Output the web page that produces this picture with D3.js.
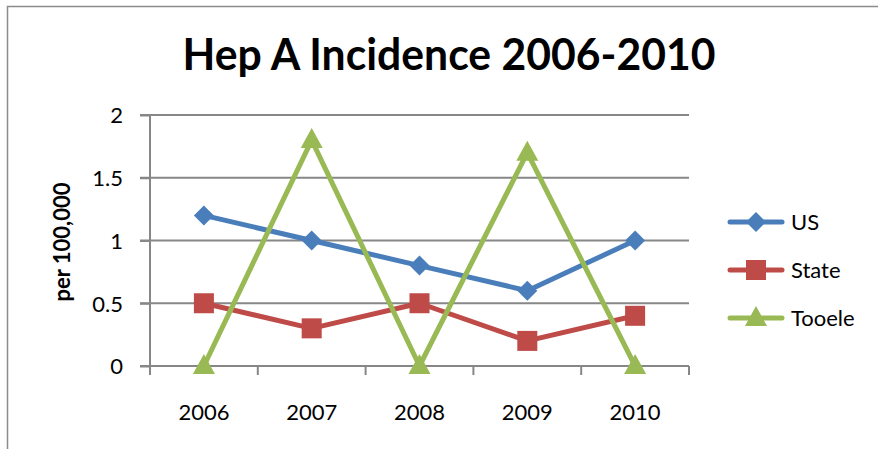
<!DOCTYPE html>
<html><head><meta charset="utf-8">
<script src="https://cdn.jsdelivr.net/npm/d3@7"></script>
<style>body{margin:0;background:#fff}svg{display:block}text{font-family:Lato,"Open Sans",sans-serif}</style>
</head><body>
<svg id="c" width="878" height="449"></svg>
<script>
const years = ["2006","2007","2008","2009","2010"];
const usValues = [1.2, 1.0, 0.8, 0.6, 1.0];
const stateValues = [0.5, 0.3, 0.5, 0.2, 0.4];
const tooeleValues = [0, 1.8, 0, 1.7, 0];
const yTicks = [0, 0.5, 1, 1.5, 2];
const seriesNames = ["US", "State", "Tooele"];
const seriesColors = ["#4A7EBB", "#BE4B48", "#98B954"];
const seriesShapes = ["diamond", "square", "triangle"];
const titleText = "Hep A Incidence 2006-2010";
const yTitle = "per 100,000";

const series = seriesNames.map((n,i)=>({name:n, values:[usValues,stateValues,tooeleValues][i], color:seriesColors[i], shape:seriesShapes[i]}));

const svg = d3.select("#c");
svg.append("rect").attr("x",7.5).attr("y",6.5).attr("width",900).attr("height",500)
  .attr("fill","#fff").attr("stroke","#8c8c8c").attr("stroke-width",1.5);

const x = d3.scaleBand().domain(years).range([150,689]);
const y = d3.scaleLinear().domain([0,2]).range([366,115]);

// gridlines
svg.append("g").selectAll("line").data(yTicks.filter(d=>d>0)).join("line")
  .attr("x1",140).attr("x2",689).attr("y1",d=>y(d)).attr("y2",d=>y(d))
  .attr("stroke","#878787").attr("stroke-width",2);

// y axis
const ya = svg.append("g").attr("transform","translate(150,0)")
  .call(d3.axisLeft(y).tickValues(yTicks).tickSize(10).tickPadding(17).tickFormat(d=>String(d)));
ya.select(".domain").attr("stroke","#878787").attr("stroke-width",2).attr("d","M0,366V115");
ya.selectAll(".tick line").attr("stroke","#878787").attr("stroke-width",2);
ya.selectAll(".tick text").attr("font-size",22).attr("fill","#000").attr("dy","0.36em");

// x axis
const xa = svg.append("g").attr("transform","translate(0,366)")
  .call(d3.axisBottom(x).tickSize(0).tickPadding(38));
xa.select(".domain").attr("stroke","#878787").attr("stroke-width",2).attr("d","M140,0H689");
xa.selectAll(".tick text").attr("font-size",22).attr("fill","#000");
svg.append("g").selectAll("line").data(years.concat(["end"])).join("line")
  .attr("x1",(d,i)=>150+i*x.step()).attr("x2",(d,i)=>150+i*x.step())
  .attr("y1",366).attr("y2",375).attr("stroke","#878787").attr("stroke-width",2);

// title
svg.append("text").attr("x",449).attr("y",70).attr("text-anchor","middle")
  .attr("font-size",44).attr("font-weight","bold").attr("textLength",533).attr("lengthAdjust","spacingAndGlyphs").text(titleText);
svg.append("text").attr("transform","translate(70,242) rotate(-90)").attr("text-anchor","middle")
  .attr("font-size",22).attr("font-weight","bold").text(yTitle);

function marker(g, shape, color, cx, cy){
  if(shape==="diamond") g.append("path").attr("d",`M${cx},${cy-10}L${cx+10},${cy}L${cx},${cy+10}L${cx-10},${cy}Z`).attr("fill",color);
  else if(shape==="square") g.append("rect").attr("x",cx-10).attr("y",cy-10).attr("width",20).attr("height",20).attr("fill",color);
  else g.append("path").attr("d",`M${cx},${cy-12}L${cx+11},${cy+8}L${cx-11},${cy+8}Z`).attr("fill",color);
}

const line = d3.line().x((d,i)=>x(years[i])+x.bandwidth()/2).y(d=>y(d));
series.forEach(s=>{
  const g = svg.append("g");
  g.append("path").attr("d",line(s.values)).attr("fill","none").attr("stroke",s.color).attr("stroke-width",5).attr("stroke-linejoin","round");
  s.values.forEach((v,i)=>marker(g,s.shape,s.color,x(years[i])+x.bandwidth()/2,y(v)));
});

// legend
series.forEach((s,i)=>{
  const cy = 222 + i*48;
  const g = svg.append("g");
  g.append("line").attr("x1",730).attr("x2",782).attr("y1",cy).attr("y2",cy).attr("stroke",s.color).attr("stroke-width",5).attr("stroke-linecap","round");
  marker(g,s.shape,s.color,756,cy);
  g.append("text").attr("x",791).attr("y",cy).attr("dy","0.36em").attr("font-size",22).text(s.name);
});
</script>
</body></html>
